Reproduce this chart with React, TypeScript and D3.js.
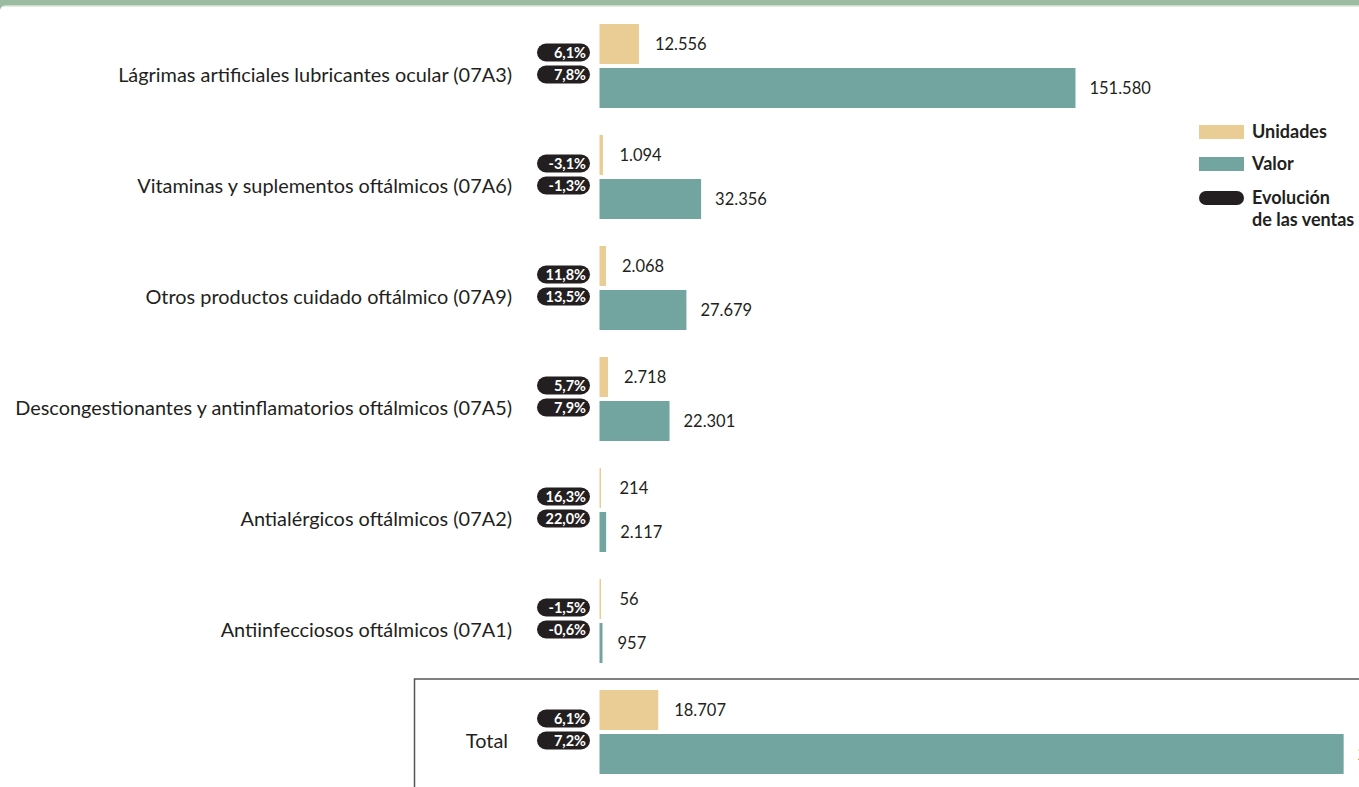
import React from "react";
import * as d3 from "d3";

const categories = [
  "Lágrimas artificiales lubricantes ocular (07A3)",
  "Vitaminas y suplementos oftálmicos (07A6)",
  "Otros productos cuidado oftálmico (07A9)",
  "Descongestionantes y antinflamatorios oftálmicos (07A5)",
  "Antialérgicos oftálmicos (07A2)",
  "Antiinfecciosos oftálmicos (07A1)",
  "Total",
];
const unidades = [12556, 1094, 2068, 2718, 214, 56, 18707];
const valor = [151580, 32356, 27679, 22301, 2117, 957, 236990];
const evolUnidades = ["6,1%", "-3,1%", "11,8%", "5,7%", "16,3%", "-1,5%", "6,1%"];
const evolValor = ["7,8%", "-1,3%", "13,5%", "7,9%", "22,0%", "-0,6%", "7,2%"];
const legendLabels = ["Unidades", "Valor", "Evolución", "de las ventas"];

const W = 1359;
const H = 787;
const C_UNI = "#e9cd94";
const C_VAL = "#72a59f";
const C_DARK = "#231f20";
const fmt = (v: number) => d3.format(",")(v).replace(/,/g, ".");

export default function App() {
  const x0 = 599.5;
  const x = d3.scaleLinear().domain([0, 240000]).range([x0, x0 + 753.6]);
  const step = 111;
  const barH = 40;
  const rowTop = (i: number) => 24 + i * step;
  const font = "Lato, 'Open Sans', sans-serif";

  return (
    <svg width={W} height={H} style={{ position: "absolute", left: 0, top: 0, background: "#fff" }}>
      <rect x={0} y={0} width={W} height={5} fill="#9bbca0" />
      <rect x={0} y={5} width={W} height={1.5} fill="#c9dccb" />
      <path d="M0,5 L5,5 Q1,6 0,10 Z" fill="#9bbca0" />
      {/* total box */}
      <rect x={414.5} y={679} width={W} height={200} fill="none" stroke="#555" strokeWidth={1.5} />
      {categories.map((c, i) => {
        const top = rowTop(i);
        const isTotal = i === categories.length - 1;
        return (
          <g key={c}>
            <text
              x={isTotal ? 508 : 512}
              y={top + 51}
              dy="0.35em"
              textAnchor="end"
              fontFamily={font}
              fontSize={19.9}
              fill={C_DARK}
            >
              {c}
            </text>
            <rect x={x(0)} y={top} width={Math.max(1.5, x(unidades[i]) - x(0))} height={barH} fill={C_UNI} />
            <rect x={x(0)} y={top + barH + 4} width={Math.max(3, x(valor[i]) - x(0))} height={barH} fill={C_VAL} />
            <text x={Math.max(x(unidades[i]), x(0) + 4) + 16} y={top + 20} dy="0.35em" fontFamily={font} fontSize={16.5} fill={C_DARK}>
              {fmt(unidades[i])}
            </text>
            <text x={Math.max(x(valor[i]), x(0) + 4) + 14} y={top + barH + 24} dy="0.35em" fontFamily={font} fontSize={16.5} fill={C_DARK}>
              {fmt(valor[i])}
            </text>
            {[evolUnidades[i], evolValor[i]].map((t, k) => {
              const cy = top + 28.5 + k * 22;
              return (
                <g key={k}>
                  <rect x={537} y={cy - 9} width={53} height={18} rx={9} fill={C_DARK} />
                  <text x={586} y={cy} dy="0.36em" textAnchor="end" fontFamily={font} fontWeight={700} fontSize={14.5} fill="#fff">
                    {t}
                  </text>
                </g>
              );
            })}
          </g>
        );
      })}
      {/* legend */}
      <g fontFamily={font} fontWeight={700} fontSize={18} fill={C_DARK}>
        <rect x={1199} y={125} width={45} height={14} fill={C_UNI} />
        <text x={1252} y={132} dy="0.35em">{legendLabels[0]}</text>
        <rect x={1199} y={157} width={45} height={14} fill={C_VAL} />
        <text x={1252} y={164} dy="0.35em">{legendLabels[1]}</text>
        <rect x={1199} y={191} width={45} height={14} rx={7} fill={C_DARK} />
        <text x={1252} y={198} dy="0.35em">{legendLabels[2]}</text>
        <text x={1252} y={220} dy="0.35em">{legendLabels[3]}</text>
      </g>
    </svg>
  );
}
